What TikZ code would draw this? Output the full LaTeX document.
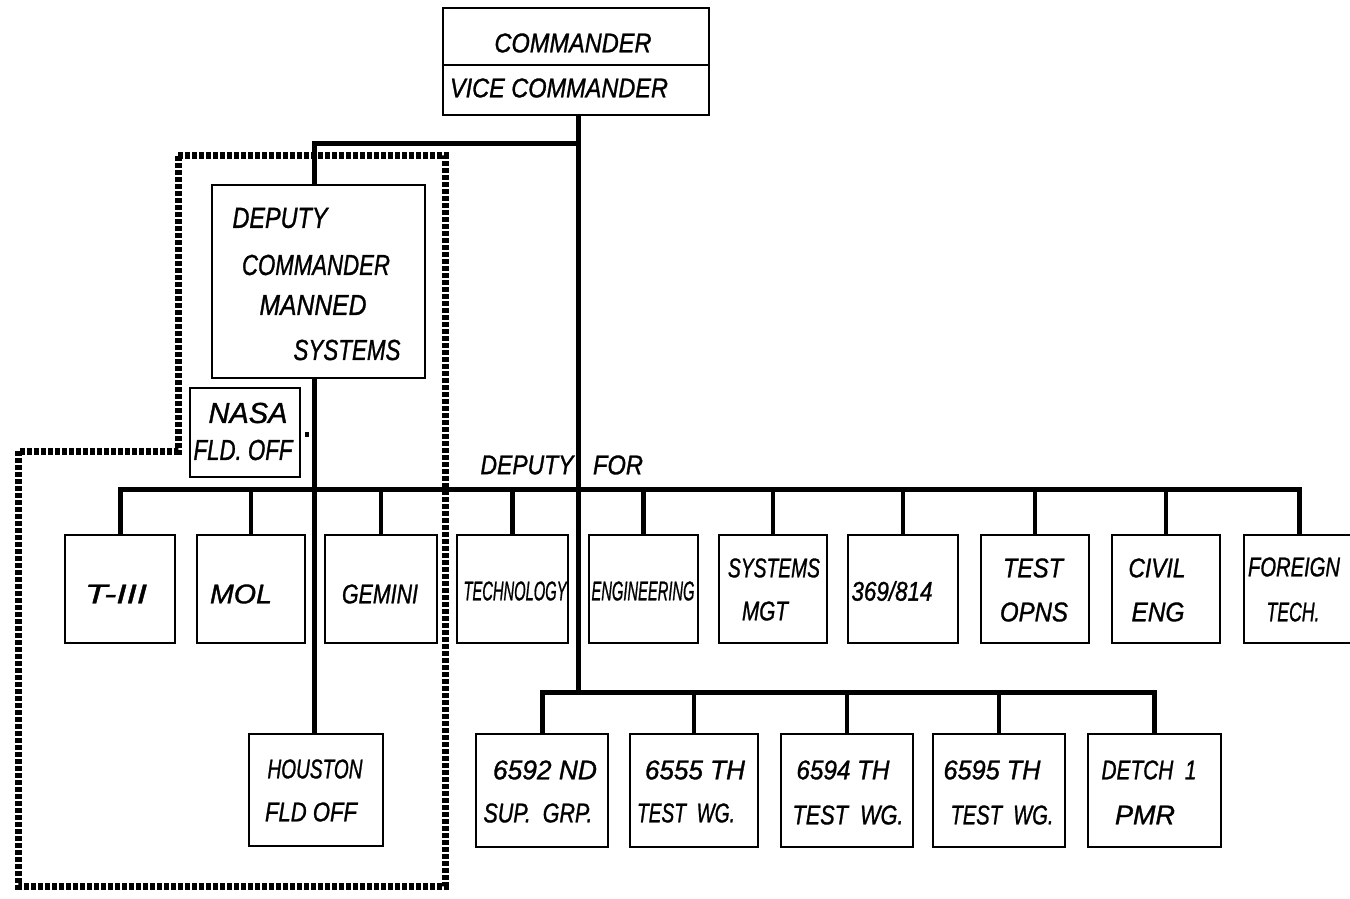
\documentclass[tikz,border=0pt]{standalone}
\usepackage{fontspec}
\setmainfont{Liberation Sans}[ItalicFeatures={FakeBold=1.2}]
\usepackage{graphicx}
\newcommand{\hw}[2]{\resizebox{#1pt}{\height}{#2}}
\tikzset{
  box/.style={draw, line width=2pt, inner sep=0pt, fill=white},
  lbl/.style={inner sep=0pt, font=\fontsize{27}{30}\selectfont\itshape},
  biglbl/.style={inner sep=0pt, font=\fontsize{29}{32}\selectfont\itshape},
  bus/.style={line width=5pt},
  drop/.style={line width=4.5pt},
  fence/.style={line width=7pt, dash pattern=on 5pt off 2pt}
}
\begin{document}
\begin{tikzpicture}[x=1pt,y=-1pt]
\useasboundingbox (0,0) rectangle (1350,899);
\clip (0,0) rectangle (1350,899);
\fill[white] (0,0) rectangle (1350,899);

% coordinates for buses
\coordinate (bus0) at (0,143);
\coordinate (bus1) at (0,489);
\coordinate (bus2) at (0,692);
\coordinate (tr) at (578,692);
\coordinate (vx) at (314,0);
\coordinate (div) at (0,65);

% dotted boundary
\draw[fence] (178,155) -- (445,155) -- (445,886) -- (18,886) -- (18,451) -- (178,451) -- cycle;

% top box
\node[box, minimum width=266pt, minimum height=107pt] (top) at (576,61.5) {};
\draw[line width=1.5pt] (top.west |- div) -- (top.east |- div);
\node[lbl] (cmd) at (573,43) {\hw{157}{COMMANDER}};
\node[lbl] (vcmd) at (559,88) {\hw{218}{VICE COMMANDER}};

% boxes row 1
\node[box, minimum width=110pt, minimum height=108pt] (t3) at (120,589) {};
\node[box, minimum width=108pt, minimum height=108pt] (mol) at (251,589) {};
\node[box, minimum width=112pt, minimum height=108pt] (gem) at (381,589) {};
\node[box, minimum width=111pt, minimum height=108pt] (tech) at (512.5,589) {};
\node[box, minimum width=109pt, minimum height=108pt] (eng) at (643.5,589) {};
\node[box, minimum width=108pt, minimum height=108pt] (sys) at (773,589) {};
\node[box, minimum width=110pt, minimum height=108pt] (nsf) at (903,589) {};
\node[box, minimum width=108pt, minimum height=108pt] (test) at (1035,589) {};
\node[box, minimum width=108pt, minimum height=108pt] (civ) at (1166,589) {};
\node[box, minimum width=110pt, minimum height=108pt] (ftech) at (1299,589) {};

% boxes row 2
\node[box, minimum width=134pt, minimum height=112pt] (hou) at (316,790) {};
\node[box, minimum width=132pt, minimum height=113pt] (g6592) at (542,790.5) {};
\node[box, minimum width=128pt, minimum height=113pt] (w6555) at (694,790.5) {};
\node[box, minimum width=132pt, minimum height=113pt] (w6594) at (847,790.5) {};
\node[box, minimum width=132pt, minimum height=113pt] (w6595) at (999,790.5) {};
\node[box, minimum width=133pt, minimum height=113pt] (det) at (1154.5,790.5) {};

% deputy and nasa
\node[box, minimum width=213pt, minimum height=193pt] (dep) at (318.5,281.5) {};
\node[box, minimum width=110pt, minimum height=89pt] (nasa) at (245,432.5) {};
\fill (305,432) rectangle (309,437);

% connectors
\draw[bus] (top.south -| tr) -- (tr);
\draw[bus] (dep.north -| vx) |- (bus0 -| tr);
\draw[bus] (dep.south -| vx) -- (hou.north -| vx);
\draw[bus] (t3.north) |- (bus1 -| ftech.north) -- (ftech.north);
\foreach \n in {mol,gem,tech,eng,sys,nsf,test,civ}
  \draw[drop] (\n.north) -- (\n.north |- bus1);
\draw[bus] (g6592.north) |- (bus2 -| det.north) -- (det.north);
\foreach \n in {w6555,w6594,w6595}
  \draw[drop] (\n.north) -- (\n.north |- bus2);

% labels
\node[biglbl] (d1) at (280,218) {\hw{95}{DEPUTY}};
\node[biglbl] (d2) at (316,265) {\hw{148}{COMMANDER}};
\node[biglbl] (d3) at (313,305) {\hw{107}{MANNED}};
\node[biglbl] (d4) at (347,350) {\hw{107}{SYSTEMS}};
\node[biglbl] (n1) at (248,413) {\hw{79}{NASA}};
\node[biglbl] (n2) at (243,450) {\hw{99}{FLD. OFF}};

\node[lbl] (dfa) at (527,465) {\hw{93}{DEPUTY}};
\node[lbl] (dfb) at (618,465) {\hw{50}{FOR}};

\node[lbl] (l1) at (116,594) {\hw{62}{T-III}};
\node[lbl] (l2) at (241,594) {\hw{62}{MOL}};
\node[lbl] (l3) at (380,594) {\hw{76}{GEMINI}};
\node[lbl] (l4) at (515,591) {\hw{103}{TECHNOLOGY}};
\node[lbl] (l5) at (643,591) {\hw{103}{ENGINEERING}};
\node[lbl] (l6a) at (774,568) {\hw{92}{SYSTEMS}};
\node[lbl] (l6b) at (765,611) {\hw{46}{MGT}};
\node[lbl] (l7) at (892,591) {\hw{81}{369/814}};
\node[lbl] (l8a) at (1033,568) {\hw{60}{TEST}};
\node[lbl] (l8b) at (1034,612) {\hw{68}{OPNS}};
\node[lbl] (l9a) at (1157,568) {\hw{57}{CIVIL}};
\node[lbl] (l9b) at (1158,612) {\hw{53}{ENG}};
\node[lbl] (l10a) at (1294,567) {\hw{92}{FOREIGN}};
\node[lbl] (l10b) at (1293,612) {\hw{53}{TECH.}};

\node[lbl] (h1) at (315,769) {\hw{95}{HOUSTON}};
\node[lbl] (h2) at (311,812) {\hw{92}{FLD OFF}};

\node[lbl] (b1a) at (545,770) {\hw{104}{6592 ND}};
\node[lbl] (b1b) at (538,813) {\hw{109}{SUP.\ \ GRP.}};
\node[lbl] (b2a) at (695,770) {\hw{100}{6555 TH}};
\node[lbl] (b2b) at (686,813) {\hw{98}{TEST\ \ WG.}};
\node[lbl] (b3a) at (843,770) {\hw{93}{6594 TH}};
\node[lbl] (b3b) at (848,815) {\hw{111}{TEST\ \ WG.}};
\node[lbl] (b4a) at (992,770) {\hw{97}{6595 TH}};
\node[lbl] (b4b) at (1002,815) {\hw{103}{TEST\ \ WG.}};
\node[lbl] (b5a) at (1149,770) {\hw{95}{DETCH\ \ 1}};
\node[lbl] (b5b) at (1145,815) {\hw{60}{PMR}};
\end{tikzpicture}
\end{document}
